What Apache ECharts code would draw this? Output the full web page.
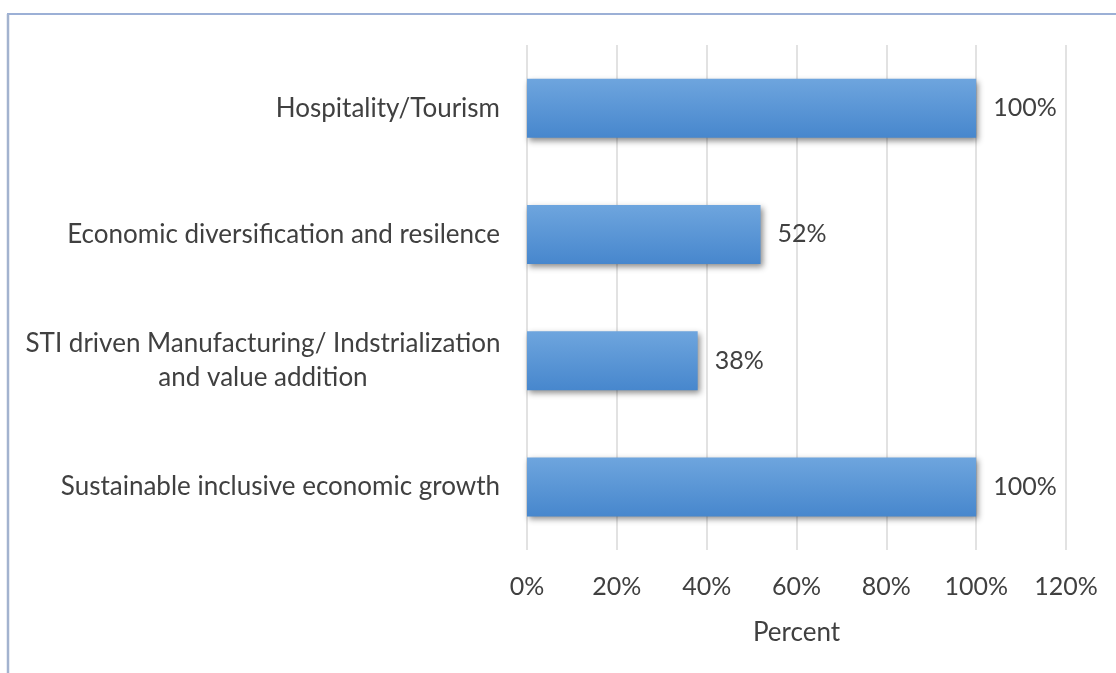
<!DOCTYPE html>
<html>
<head>
<meta charset="utf-8">
<script src="https://cdn.jsdelivr.net/npm/echarts@6/dist/echarts.min.js"></script>
<style>
html,body{margin:0;padding:0;background:#fff;}
#c{width:1116px;height:673px;}
</style>
</head>
<body>
<div id="c"></div>
<script>
var categories = [
  "Hospitality/Tourism",
  "Economic diversification and resilence",
  "STI driven Manufacturing/ Indstrialization\nand value addition",
  "Sustainable inclusive economic growth"
];
var percentValues = [100, 52, 38, 100];
var xTicks = { min: 0, max: 120, interval: 20 };
var axisTitle = "Percent";

var FONT = "Lato";
var TXT = "#404040";
var chart = echarts.init(document.getElementById('c'), null, {renderer: 'canvas'});
chart.setOption({
  backgroundColor: '#ffffff',
  animation: false,
  graphic: [
    { type: 'line', shape: {x1: 7, y1: 14, x2: 1116, y2: 14}, style: {stroke: '#7b96c8', lineWidth: 1.5}, silent: true },
    { type: 'line', shape: {x1: 8, y1: 14, x2: 8, y2: 673}, style: {stroke: '#a3b3cf', lineWidth: 2.5}, silent: true }
  ],
  grid: { left: 527, right: 50, top: 45, bottom: 123, containLabel: false },
  xAxis: {
    type: 'value',
    min: xTicks.min, max: xTicks.max, interval: xTicks.interval,
    name: axisTitle,
    nameLocation: 'middle',
    nameGap: 70,
    nameTextStyle: { fontFamily: FONT, fontSize: 26, color: TXT },
    axisLine: { show: false },
    axisTick: { show: false },
    axisLabel: { formatter: '{value}%', fontFamily: FONT, fontSize: 25, color: TXT, margin: 24 },
    splitLine: { show: true, lineStyle: { color: '#d9d9d9', width: 1.5 } }
  },
  yAxis: {
    type: 'category',
    data: categories,
    inverse: true,
    axisLine: { show: false },
    axisTick: { show: false },
    axisLabel: {
      fontFamily: FONT, fontSize: 26, color: TXT, margin: 27,
      formatter: function (v) {
        if (v.indexOf('\n') >= 0) {
          var parts = v.split('\n');
          return parts.map(function (p) { return '{c|' + p + '}'; }).join('\n');
        }
        return v;
      },
      rich: { c: { width: 474, align: 'center', fontFamily: FONT, fontSize: 26, color: TXT, lineHeight: 34 } }
    }
  },
  series: [{
    type: 'bar',
    data: percentValues,
    barWidth: 59,
    itemStyle: {
      color: new echarts.graphic.LinearGradient(0, 0, 0, 1, [
        { offset: 0, color: '#6ea5de' },
        { offset: 1, color: '#4787cd' }
      ]),
      shadowColor: 'rgba(0,0,0,0.45)',
      shadowBlur: 6,
      shadowOffsetX: 2,
      shadowOffsetY: 3
    },
    label: {
      show: true, position: 'right', distance: 17,
      formatter: '{c}%', fontFamily: FONT, fontSize: 25, color: TXT
    }
  }]
});
</script>
</body>
</html>
